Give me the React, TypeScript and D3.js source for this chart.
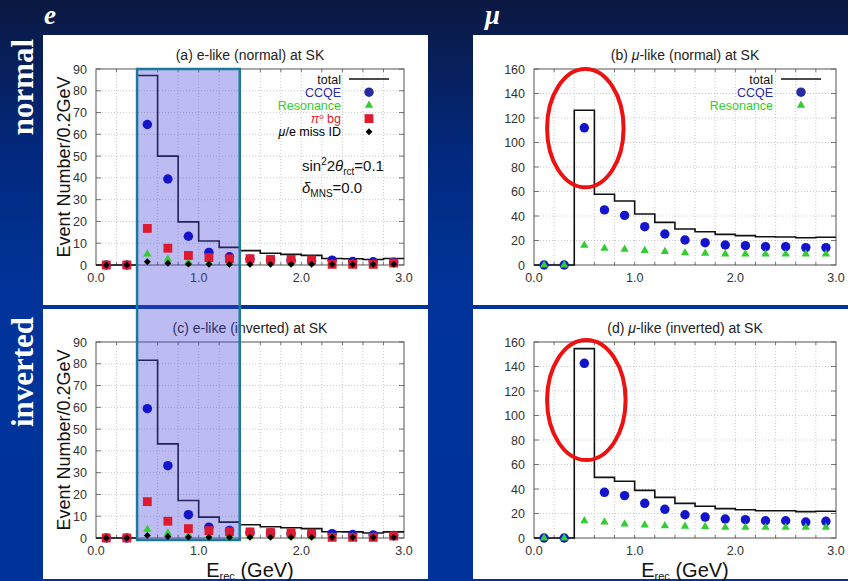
import React from 'react';
import * as d3 from 'd3';

// reconstructed energy bins (GeV), 0.2 GeV wide
const energyBins = [0.1, 0.3, 0.5, 0.7, 0.9, 1.1, 1.3, 1.5, 1.7, 1.9, 2.1, 2.3, 2.5, 2.7, 2.9];
const binWidth = 0.2;
const xTickValues = [0, 1, 2, 3];
const xTickLabels = ['0.0', '1.0', '2.0', '3.0'];
const eYTicks = [0, 10, 20, 30, 40, 50, 60, 70, 80, 90];
const muYTicks = [0, 20, 40, 60, 80, 100, 120, 140, 160];

// (a) e-like, normal hierarchy
const eNormalTotal = [0, 0, 87, 50, 19.8, 11, 8.1, 6.6, 5.4, 4.9, 4.4, 3, 2.9, 2.5, 3];
const eNormalCCQE = [0, 0, 64.5, 39.5, 13.2, 5.8, 3.8, 2.6, 2.4, 2.1, 2, 2.2, 1.6, 1.5, 1.3];
const eNormalRes = [0, 0, 5, 2.7, 1.5, 1, 0.9, 0.8, 0.7, 0.6, 0.6, 0.5, 0.5, 0.4, 0.4];
const eNormalPi0 = [0, 0, 16.8, 7.7, 4.4, 3.4, 2.9, 2.9, 2.6, 2.6, 2.3, 0.3, 0.3, 0.3, 0.9];
const eNormalMisID = [0, 0, 1.5, 0.8, 0.4, 0.3, 0.3, 0.3, 0.3, 0.3, 0.3, 0.3, 0.3, 0.3, 0.3];

// (c) e-like, inverted hierarchy
const eInvTotal = [0, 0, 81.6, 43.2, 17.2, 9.6, 7.3, 6.1, 5.2, 4.7, 4.3, 2.9, 2.8, 2.3, 2.8];
const eInvCCQE = [0, 0, 59.4, 33.2, 10.7, 5, 3.5, 2.5, 2.3, 2, 1.9, 2, 1.6, 1.4, 1.2];
const eInvRes = [0, 0, 4, 2.3, 1.3, 0.9, 0.8, 0.7, 0.6, 0.6, 0.5, 0.5, 0.4, 0.4, 0.4];
const eInvPi0 = [0, 0, 16.7, 7.7, 4.3, 3.4, 2.9, 2.8, 2.5, 2.4, 2.2, 0.3, 0.3, 0.3, 0.9];
const eInvMisID = [0, 0, 1.2, 0.7, 0.4, 0.3, 0.3, 0.3, 0.3, 0.3, 0.3, 0.3, 0.3, 0.3, 0.3];

// (b) mu-like, normal hierarchy
const muNormalTotal = [0, 0, 126.3, 57.7, 52.2, 41.6, 34.8, 29.4, 27.2, 25, 24, 23.1, 22.9, 22.3, 22.6];
const muNormalCCQE = [0, 0, 112, 45, 40.5, 31.3, 25.3, 20.4, 18.2, 16.3, 15.8, 15, 15, 14.2, 14.2];
const muNormalRes = [0, 0, 16, 13.6, 12.8, 11.7, 10.9, 10, 9.5, 9, 9, 9, 9, 9, 9];

// (d) mu-like, inverted hierarchy
const muInvTotal = [0, 0, 154.6, 49.5, 46.3, 38.9, 33.2, 28.3, 25.9, 24, 23.1, 22.3, 22.3, 21.5, 21.8];
const muInvCCQE = [0, 0, 142.6, 37.3, 34.6, 28.3, 23.4, 19, 17.1, 15.5, 15, 14.1, 14.1, 13, 13.6];
const muInvRes = [0, 0, 14.1, 13, 11.4, 10.6, 10, 9.5, 9.3, 8.7, 8.7, 8.7, 8.7, 8.7, 8.7];

// highlighted energy window on the e-like plots and circled peaks on the mu-like plots
const highlightRange = [0.4, 1.4];
const peakCircleB = { x: 0.51, y: 111.7, rx: 0.38, ry: 48.3 };
const peakCircleD = { x: 0.52, y: 112.6, rx: 0.39, ry: 49 };

const FONT = '"Liberation Sans", Arial, Helvetica, sans-serif';
const SERIF = '"Liberation Serif", "Times New Roman", serif';

const COLORS = {
  ccqe: '#1414cc',
  res: '#33cc33',
  pi0: '#dd1a30',
  misid: '#000000',
};

type Kind = 'circle' | 'triangle' | 'square' | 'diamond';
type Series = { values: number[]; kind: Kind; color: string };

const symbolPath = (kind: Kind) => {
  if (kind === 'circle') return d3.symbol(d3.symbolCircle, 70)()!;
  if (kind === 'triangle') return d3.symbol(d3.symbolTriangle, 30)()!;
  if (kind === 'square') return d3.symbol(d3.symbolSquare, 78)()!;
  return d3.symbol(d3.symbolSquare, 24)()!;
};

const Marker = ({ kind, color, cx, cy }: { kind: Kind; color: string; cx: number; cy: number }) => (
  <path
    d={symbolPath(kind)}
    fill={color}
    transform={`translate(${cx},${cy})${kind === 'diamond' ? ' rotate(45)' : ''}`}
  />
);

type PanelProps = {
  layer: 'base' | 'marks';
  title: React.ReactNode;
  xr: [number, number];
  yr: [number, number];
  yTicks: number[];
  total: number[];
  series: Series[];
  legend?: { label: React.ReactNode; color: string; kind?: Kind }[];
  yLabel?: boolean;
  xLabel?: boolean;
  note?: boolean;
};

const Panel = ({ layer, title, xr, yr, yTicks, total, series, legend, yLabel, xLabel, note }: PanelProps) => {
  const x = d3.scaleLinear().domain([0, 3]).range(xr);
  const y = d3.scaleLinear().domain([0, yTicks[yTicks.length - 1]]).range(yr);
  const [left, right] = xr;
  const [bottom, top] = yr;
  const cx = (left + right) / 2;
  const cy = (top + bottom) / 2;

  if (layer === 'marks') {
    // point markers sit above the highlight overlay
    return (
      <g>
        {series.map((s, si) =>
          s.values.map((v, i) => (
            <Marker key={si + '-' + i} kind={s.kind} color={s.color} cx={x(energyBins[i])} cy={y(v)} />
          ))
        )}
      </g>
    );
  }

  const stepPts: [number, number][] = energyBins.map((c, i) => [c - binWidth / 2, total[i]]);
  stepPts.push([energyBins[energyBins.length - 1] + binWidth / 2, total[total.length - 1]]);
  const step = d3
    .line<[number, number]>()
    .x(d => x(d[0]))
    .y(d => y(d[1]))
    .curve(d3.curveStepAfter);

  const minorX = d3.range(1, 15).map(i => i * binWidth);

  return (
    <g fontFamily={FONT}>
      <text x={cx} y={top - 9} textAnchor="middle" fontSize={14} fill="#222">
        {title}
      </text>
      {/* grid */}
      {minorX.map(v => (
        <line key={'gx' + v} x1={x(v)} x2={x(v)} y1={top} y2={bottom} stroke="#bbb" strokeWidth={0.8} strokeDasharray="1,2" />
      ))}
      {yTicks.slice(1, -1).map(v => (
        <line key={'gy' + v} x1={left} x2={right} y1={y(v)} y2={y(v)} stroke="#bbb" strokeWidth={0.8} strokeDasharray="1,2" />
      ))}
      {/* tick marks */}
      {minorX.map(v => (
        <g key={'tx' + v} stroke="#555" strokeWidth={0.8}>
          <line x1={x(v)} x2={x(v)} y1={bottom} y2={bottom - 3} />
          <line x1={x(v)} x2={x(v)} y1={top} y2={top + 3} />
        </g>
      ))}
      {yTicks.map(v => (
        <g key={'ty' + v}>
          <line x1={left} x2={left + 5} y1={y(v)} y2={y(v)} stroke="#555" strokeWidth={0.8} />
          <line x1={right} x2={right - 5} y1={y(v)} y2={y(v)} stroke="#555" strokeWidth={0.8} />
          <text x={left - 9} y={y(v) + 4.5} textAnchor="end" fontSize={12.5} fill="#333">
            {v}
          </text>
        </g>
      ))}
      {xTickValues.map((v, i) => (
        <text key={'xl' + v} x={x(v)} y={bottom + 17} textAnchor="middle" fontSize={12.5} fill="#333">
          {xTickLabels[i]}
        </text>
      ))}
      <rect x={left} y={top} width={right - left} height={bottom - top} fill="none" stroke="#555" strokeWidth={1} />
      <path d={step(stepPts)!} fill="none" stroke="#111" strokeWidth={1.6} />
      {legend &&
        legend.map((item, i) => {
          const ly = top + 10 + i * 13.2;
          return (
            <g key={'lg' + i}>
              <text x={right - 63} y={ly + 4.5} textAnchor="end" fontSize={12.5} fill={item.color}>
                {item.label}
              </text>
              {item.kind ? (
                <Marker kind={item.kind} color={item.color} cx={right - 35} cy={ly} />
              ) : (
                <line x1={right - 55} x2={right - 15} y1={ly} y2={ly} stroke="#111" strokeWidth={1.6} />
              )}
            </g>
          );
        })}
      {note && (
        <g fontSize={15} fill="#111">
          <text x={left + 206} y={top + 102}>
            sin<tspan dy={-6} fontSize={10}>2</tspan>
            <tspan dy={6}>2</tspan>
            <tspan fontStyle="italic">θ</tspan>
            <tspan dy={4} fontSize={10}>rct</tspan>
            <tspan dy={-4}>=0.1</tspan>
          </text>
          <text x={left + 206} y={top + 124}>
            <tspan fontStyle="italic">δ</tspan>
            <tspan dy={4} fontSize={10}>MNS</tspan>
            <tspan dy={-4}>=0.0</tspan>
          </text>
        </g>
      )}
      {yLabel && (
        <text transform={`translate(70,${cy}) rotate(-90)`} textAnchor="middle" fontSize={18} fill="#111">
          Event Number/0.2GeV
        </text>
      )}
      {xLabel && (
        <text x={cx} y={577} textAnchor="middle" fontSize={20} fill="#111">
          E<tspan dy={3} fontSize={11}>rec</tspan>
          <tspan dy={-3}> (GeV)</tspan>
        </text>
      )}
    </g>
  );
};

const leftX: [number, number] = [96, 404];
const rightX: [number, number] = [534, 836];
const topY: [number, number] = [265, 69];
const bottomY: [number, number] = [538, 342];

const eLegend = [
  { label: 'total', color: '#111' },
  { label: 'CCQE', color: '#2a2aa0', kind: 'circle' as Kind },
  { label: 'Resonance', color: COLORS.res, kind: 'triangle' as Kind },
  {
    label: (
      <>
        <tspan fontStyle="italic">π</tspan>
        <tspan dy={-4} fontSize={8}>o</tspan>
        <tspan dy={4}> bg</tspan>
      </>
    ),
    color: COLORS.pi0,
    kind: 'square' as Kind,
  },
  {
    label: (
      <>
        <tspan fontStyle="italic">μ</tspan>/e miss ID
      </>
    ),
    color: '#000',
    kind: 'diamond' as Kind,
  },
];
const muLegend = eLegend.slice(0, 3);

const eSeries = (ccqe: number[], res: number[], pi0: number[], misid: number[]): Series[] => [
  { values: ccqe, kind: 'circle', color: COLORS.ccqe },
  { values: res, kind: 'triangle', color: COLORS.res },
  { values: pi0, kind: 'square', color: COLORS.pi0 },
  { values: misid, kind: 'diamond', color: COLORS.misid },
];
const muSeries = (ccqe: number[], res: number[]): Series[] => [
  { values: ccqe, kind: 'circle', color: COLORS.ccqe },
  { values: res, kind: 'triangle', color: COLORS.res },
];

const panels: Omit<PanelProps, 'layer'>[] = [
  {
    title: '(a) e-like (normal) at SK',
    xr: leftX,
    yr: topY,
    yTicks: eYTicks,
    total: eNormalTotal,
    series: eSeries(eNormalCCQE, eNormalRes, eNormalPi0, eNormalMisID),
    legend: eLegend,
    yLabel: true,
    note: true,
  },
  {
    title: (
      <>
        (b) <tspan fontStyle="italic">μ</tspan>-like (normal) at SK
      </>
    ),
    xr: rightX,
    yr: topY,
    yTicks: muYTicks,
    total: muNormalTotal,
    series: muSeries(muNormalCCQE, muNormalRes),
    legend: muLegend,
  },
  {
    title: '(c) e-like (inverted) at SK',
    xr: leftX,
    yr: bottomY,
    yTicks: eYTicks,
    total: eInvTotal,
    series: eSeries(eInvCCQE, eInvRes, eInvPi0, eInvMisID),
    yLabel: true,
    xLabel: true,
  },
  {
    title: (
      <>
        (d) <tspan fontStyle="italic">μ</tspan>-like (inverted) at SK
      </>
    ),
    xr: rightX,
    yr: bottomY,
    yTicks: muYTicks,
    total: muInvTotal,
    series: muSeries(muInvCCQE, muInvRes),
    xLabel: true,
  },
];

export default function App() {
  const xL = d3.scaleLinear().domain([0, 3]).range(leftX);
  const xR = d3.scaleLinear().domain([0, 3]).range(rightX);
  const yA = d3.scaleLinear().domain([0, 90]).range(topY);
  const yC = d3.scaleLinear().domain([0, 90]).range(bottomY);
  const yB = d3.scaleLinear().domain([0, 160]).range(topY);
  const yD = d3.scaleLinear().domain([0, 160]).range(bottomY);

  const ellipse = (c: typeof peakCircleB, ys: d3.ScaleLinear<number, number>) => (
    <ellipse
      cx={xR(c.x)}
      cy={ys(c.y)}
      rx={xR(c.rx) - xR(0)}
      ry={ys(0) - ys(c.ry)}
      fill="none"
      stroke="#ee1111"
      strokeWidth={4}
    />
  );

  return (
    <svg width={848} height={581} style={{ position: 'absolute', left: 0, top: 0 }}>
      <defs>
        <linearGradient id="bg" x1="0" y1="0" x2="0" y2="1">
          <stop offset="0" stopColor="#0b1840" />
          <stop offset="0.25" stopColor="#02287c" />
          <stop offset="0.5" stopColor="#013399" />
          <stop offset="1" stopColor="#003399" />
        </linearGradient>
      </defs>
      <rect width={848} height={581} fill="url(#bg)" />
      <rect x={43} y={35} width={385} height={270} fill="#fff" />
      <rect x={473} y={35} width={375} height={270} fill="#fff" />
      <rect x={43} y={309} width={385} height={270} fill="#fff" />
      <rect x={473} y={309} width={375} height={270} fill="#fff" />

      {panels.map((p, i) => (
        <Panel key={'base' + i} layer="base" {...p} />
      ))}

      {/* highlighted window across both e-like plots */}
      <rect
        x={xL(highlightRange[0])}
        y={yA(90)}
        width={xL(highlightRange[1]) - xL(highlightRange[0])}
        height={yC(0) + 2 - yA(90)}
        fill="rgb(70,70,220)"
        fillOpacity={0.36}
        stroke="#1b7a98"
        strokeWidth={2.5}
      />

      {panels.map((p, i) => (
        <Panel key={'marks' + i} layer="marks" {...p} />
      ))}

      {ellipse(peakCircleB, yB)}
      {ellipse(peakCircleD, yD)}

      <g fill="#fff" fontFamily={SERIF} fontWeight="bold">
        <text x={44} y={24} fontSize={27} fontStyle="italic">e</text>
        <text x={485} y={24} fontSize={27} fontStyle="italic">μ</text>
        <text transform="translate(33,87) rotate(-90)" textAnchor="middle" fontSize={31}>normal</text>
        <text transform="translate(33,372) rotate(-90)" textAnchor="middle" fontSize={31}>inverted</text>
      </g>
    </svg>
  );
}
